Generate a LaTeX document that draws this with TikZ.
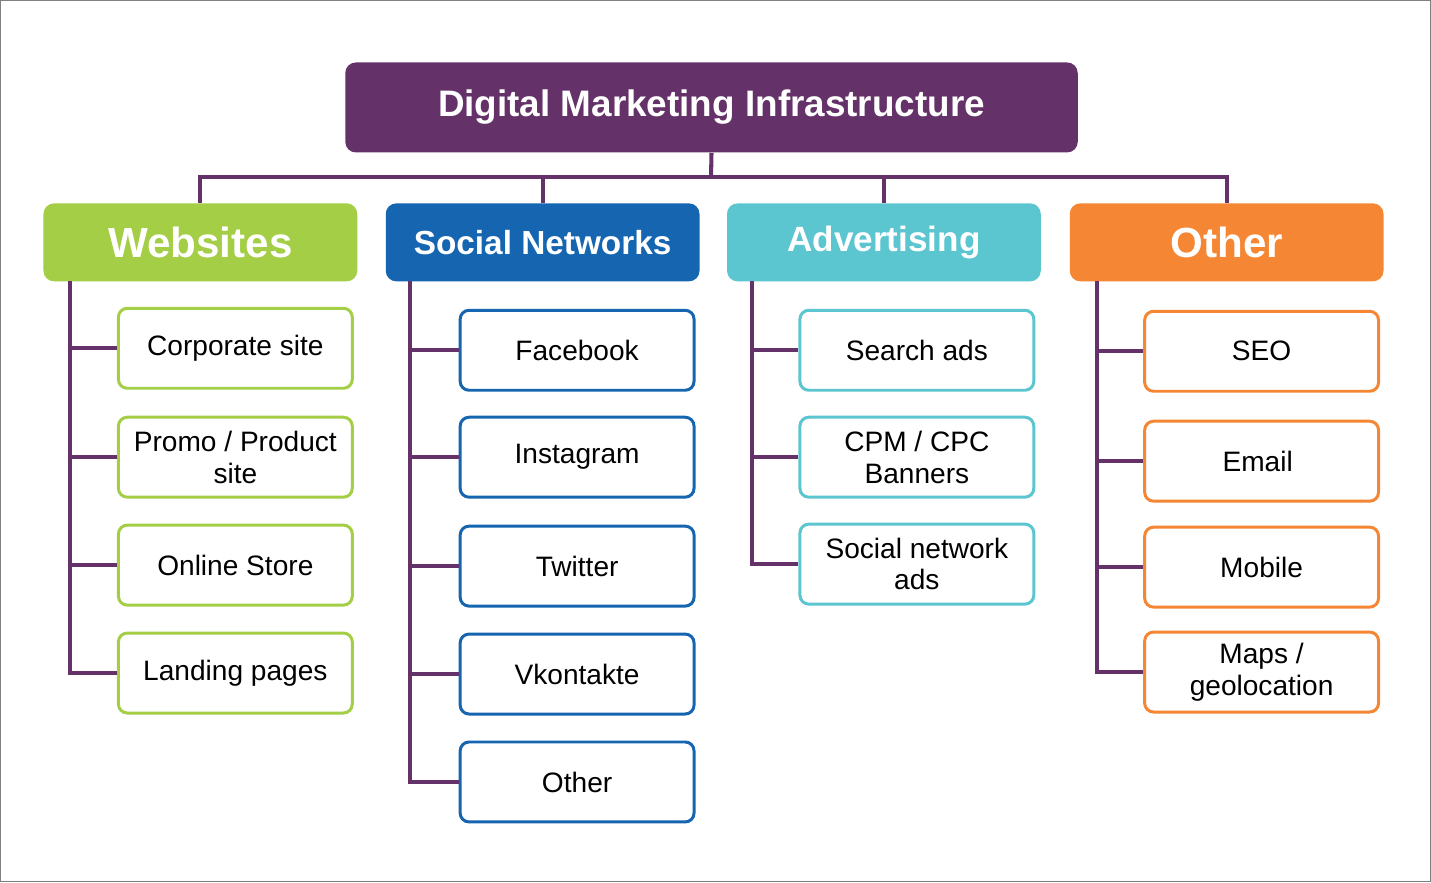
\documentclass[tikz,border=0pt]{standalone}
\usepackage{fontspec}
\setmainfont{Liberation Sans}
\begin{document}
\definecolor{pur}{HTML}{643269}
\definecolor{grn}{HTML}{A4CE45}
\definecolor{blu}{HTML}{1565B0}
\definecolor{cya}{HTML}{5BC5D0}
\definecolor{org}{HTML}{F58634}
\begin{tikzpicture}[x=0.02cm,y=-0.02cm,
  hdr/.style={fill=#1,rounded corners=6pt,text=white,font=\bfseries,align=center},
  itm/.style={draw=#1,line width=1.7pt,rounded corners=5pt,fill=white,align=center,font=\fontsize{16}{18}\selectfont},
  ln/.style={draw=pur,line width=2.3pt}]
\draw[gray,line width=0.6pt,fill=white] (0,0) rectangle (1431,882);
\node[hdr=pur,minimum width=733*0.02cm,minimum height=90*0.02cm,font=\bfseries\fontsize{21}{24}\selectfont] (t) at (711.5,107) {Digital Marketing Infrastructure};
\foreach \n/\x/\c/\s/\tx in {w/200/grn/24/Websites, s/542.5/blu/19/Social Networks, a/884/cya/20/Advertising, o/1227/org/24/Other}{
  \node[hdr=\c,minimum width=314*0.02cm,minimum height=78*0.02cm,font=\bfseries\fontsize{\s}{\s}\selectfont] (\n) at (\x,242) {\tx};
}
\coordinate (tb) at (711,177);
\draw[ln] (t.south) -- (tb);
\draw[ln] (w.north) |- (tb) -| (o.north);
\draw[ln] (s.north) -- (542.5,177);
\draw[ln] (a.north) -- (884,177);
% items
\newcommand{\itemset}[5]{% name, trunk x, box cx, color, list y/text
  \foreach \i/\y/\tx in {#5}{
    \node[itm=#4,minimum width=234*0.02cm,minimum height=80*0.02cm] (#1\i) at (#3,\y) {\tx};
    \draw[ln] (#2,\y) -- (#1\i.west);
  }}
\itemset{wi}{70}{235}{grn}{1/348/Corporate site, 2/457/{Promo / Product\\site}, 3/565/Online Store, 4/673/Landing pages}
\draw[ln] (70,281) -- (70,673) -- (wi4.west);
\itemset{si}{410}{577}{blu}{1/350/Facebook, 2/457/Instagram, 3/566/Twitter, 4/674/Vkontakte, 5/782/Other}
\draw[ln] (410,281) -- (410,782) -- (si5.west);
\itemset{ai}{752}{917}{cya}{1/350/Search ads, 2/457/{CPM / CPC\\Banners}, 3/564/{Social network\\ads}}
\draw[ln] (752,281) -- (752,564) -- (ai3.west);
\itemset{oi}{1097}{1262}{org}{1/351/SEO, 2/461/Email / MMM, 3/567/Mobile, 4/672/{Maps /\\geolocation}}
\draw[ln] (1097,281) -- (1097,672) -- (oi4.west);
\end{tikzpicture}
\end{document}
